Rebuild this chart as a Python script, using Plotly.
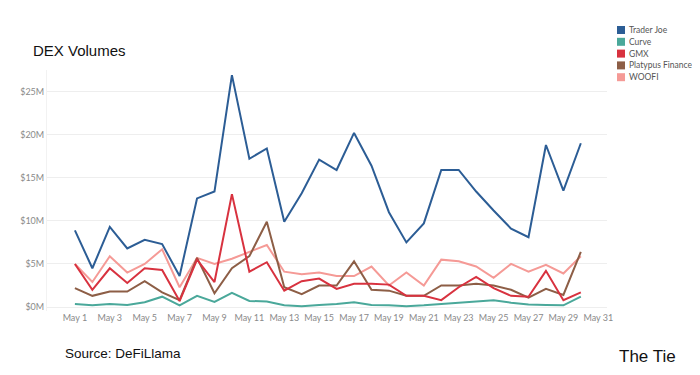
import plotly.graph_objects as go

days = [1, 2, 3, 4, 5, 6, 7, 8, 9, 10, 11, 12, 13, 14, 15,
        16, 17, 18, 19, 20, 21, 22, 23, 24, 25, 26, 27, 28, 29, 30]

trader_joe = [8.9, 4.5, 9.3, 6.8, 7.8, 7.3, 3.6, 12.6, 13.4, 26.9, 17.2, 18.4, 9.9, 13.2, 17.1,
              15.9, 20.2, 16.4, 11.0, 7.5, 9.7, 15.9, 15.9, 13.4, 11.2, 9.1, 8.1, 18.8, 13.5, 19.0]
curve = [0.35, 0.2, 0.35, 0.25, 0.55, 1.2, 0.2, 1.3, 0.6, 1.65, 0.7, 0.65, 0.2, 0.1, 0.25,
         0.35, 0.55, 0.25, 0.2, 0.1, 0.2, 0.35, 0.45, 0.65, 0.8, 0.5, 0.3, 0.25, 0.2, 1.2]
gmx = [5.0, 2.0, 4.5, 2.8, 4.5, 4.3, 0.7, 5.5, 2.9, 13.1, 4.1, 5.2, 1.9, 3.0, 3.3,
       2.1, 2.7, 2.7, 2.6, 1.3, 1.3, 0.8, 2.3, 3.5, 2.2, 1.3, 1.2, 4.2, 0.8, 1.7]
platypus = [2.2, 1.3, 1.8, 1.8, 3.0, 1.7, 0.8, 5.7, 1.6, 4.5, 5.9, 9.9, 2.3, 1.5, 2.5,
            2.5, 5.3, 2.0, 1.9, 1.3, 1.3, 2.5, 2.5, 2.7, 2.5, 2.0, 1.1, 2.1, 1.4, 6.4]
woofi = [5.0, 2.9, 5.9, 4.0, 5.0, 6.7, 2.3, 5.7, 5.0, 5.6, 6.4, 7.2, 4.1, 3.8, 4.0,
         3.6, 3.6, 4.7, 2.5, 4.0, 2.5, 5.5, 5.3, 4.7, 3.4, 5.0, 4.1, 4.9, 3.9, 5.9]

series_names = ["Trader Joe", "Curve", "GMX", "Platypus Finance", "WOOFI"]
series_values = [trader_joe, curve, gmx, platypus, woofi]
series_colors = ["#2c5d95", "#4aa89a", "#d8323f", "#8d5e46", "#f59a96"]

tick_days = [1, 3, 5, 7, 9, 11, 13, 15, 17, 19, 21, 23, 25, 27, 29, 31]
tick_labels = ["May 1", "May 3", "May 5", "May 7", "May 9", "May 11", "May 13", "May 15",
               "May 17", "May 19", "May 21", "May 23", "May 25", "May 27", "May 29", "May 31"]
y_ticks = [0, 5, 10, 15, 20, 25]
y_labels = ["$0M", "$5M", "$10M", "$15M", "$20M", "$25M"]

# page places the figure with an offset (body margin); work in screen coords
DX, DY = 9, 8
W, H = 700 - 8, 375 - 8
PL, PR, PT, PB = 48, 608, 70, 311  # plot area in screen coords
L, R, T, B = PL - DX, W - (PR - DX), PT - DY, H - (PB - DY)
PW, PH = PR - PL, PB - PT


def fx(sx):
    return (sx - PL) / PW


def fy(sy):
    return (PB - sy) / PH


fig = go.Figure()
order = [4, 3, 2, 1, 0]
for i in order:
    fig.add_trace(go.Scatter(
        x=days, y=series_values[i], mode="lines", name=series_names[i],
        line=dict(color=series_colors[i], width=2), showlegend=False,
        hovertemplate="%{y}M<extra>" + series_names[i] + "</extra>"))

leg_x0, leg_y0, leg_dy = 618, 30, 11.8
for k, (name, col) in enumerate(zip(series_names, series_colors)):
    yc = leg_y0 + k * leg_dy
    fig.add_shape(type="rect", xref="paper", yref="paper",
                  x0=fx(leg_x0), x1=fx(leg_x0 + 8),
                  y0=fy(yc + 4), y1=fy(yc - 4),
                  fillcolor=col, line=dict(width=0))
    fig.add_annotation(xref="paper", yref="paper",
                       x=fx(leg_x0 + 10), y=fy(yc),
                       text=name, showarrow=False, xanchor="left", yanchor="middle",
                       font=dict(family="Lato, Liberation Sans, sans-serif", size=8.5, color="#555555"))

fig.add_annotation(xref="paper", yref="paper", x=fx(32), y=fy(50),
                   text="DEX Volumes", showarrow=False, xanchor="left", yanchor="middle",
                   font=dict(family="Liberation Sans, Arial, sans-serif", size=15, color="#111111"))
fig.add_annotation(xref="paper", yref="paper", x=fx(64), y=fy(353),
                   text="Source: DeFiLlama", showarrow=False, xanchor="left", yanchor="middle",
                   font=dict(family="Liberation Sans, Arial, sans-serif", size=13.5, color="#111111"))
fig.add_annotation(xref="paper", yref="paper", x=fx(618), y=fy(356),
                   text="The Tie", showarrow=False, xanchor="left", yanchor="middle",
                   font=dict(family="Liberation Sans, Arial, sans-serif", size=17, color="#111111"))

fig.update_layout(
    width=W, height=H,
    margin=dict(l=L, r=R, t=T, b=B),
    paper_bgcolor="white", plot_bgcolor="white",
    showlegend=False,
    xaxis=dict(range=[-0.6, 31.5], tickvals=tick_days, ticktext=tick_labels,
               showgrid=False, zeroline=False, showline=False, ticks="",
               tickfont=dict(family="Lato, Liberation Sans, sans-serif", size=9, color="#8a8a8a")),
    yaxis=dict(range=[-0.46, 27.5], tickvals=y_ticks, ticktext=y_labels,
               showgrid=True, gridcolor="#eeeeee", gridwidth=1, zeroline=False,
               showline=True, linecolor="#f2f2f2", ticks="",
               tickfont=dict(family="Lato, Liberation Sans, sans-serif", size=9, color="#8a8a8a")),
)

fig.write_html("out.html")
